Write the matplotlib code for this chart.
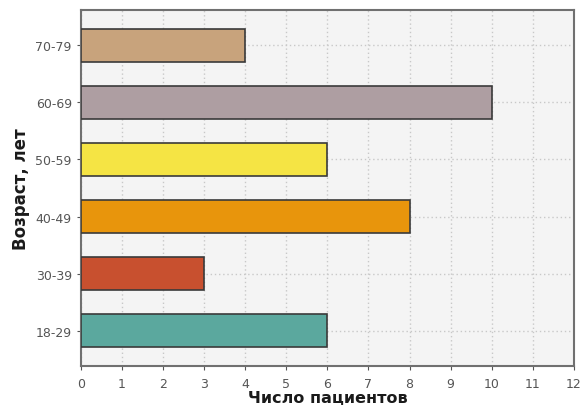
import matplotlib
matplotlib.use("Agg")
from matplotlib import pyplot as plt

age_groups = ["18-29", "30-39", "40-49", "50-59", "60-69", "70-79"]
patients = [6, 3, 8, 6, 10, 4]
bar_colours = ["#5ba89e", "#c8502f", "#e8950c", "#f5e444", "#ae9ea2", "#c8a37c"]
x_ticks = list(range(0, 13))

fig = plt.figure(figsize=(5.82, 4.10), dpi=100)
ax = fig.add_axes([0.139, 0.105, 0.847, 0.868])
ax.set_facecolor("#f4f4f4")

ax.barh(age_groups, patients, height=0.58, color=bar_colours,
        edgecolor="#3a3a3a", linewidth=1.2, zorder=3)

ax.set_xlim(0, 12)
ax.set_ylim(-0.62, 5.62)
ax.set_xticks(x_ticks)
ax.grid(True, linestyle=(0, (1, 2)), color="#c8c8c8", linewidth=1, zorder=0)

for side in ax.spines.values():
    side.set_color("#707070")
    side.set_linewidth(1.5)

ax.tick_params(axis="both", colors="#555555", labelsize=9, length=3)
ax.tick_params(axis="x", pad=5)
ax.set_xlabel("Число пациентов", fontsize=11.5, fontweight="bold",
              color="#1a1a1a", labelpad=0)
ax.set_ylabel("Возраст, лет", fontsize=12, fontweight="bold",
              color="#1a1a1a", labelpad=4)

fig.savefig("out.png", dpi=100, facecolor="white")
